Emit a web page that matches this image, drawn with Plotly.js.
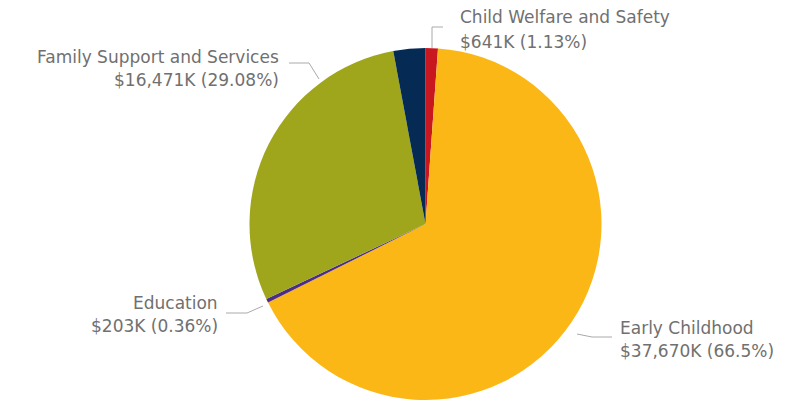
<!DOCTYPE html>
<html>
<head>
<meta charset="utf-8">
<script src="https://cdn.plot.ly/plotly-3.0.1.min.js"></script>
<style>html,body{margin:0;padding:0;background:#fff;}#chart{width:788px;height:404px;}</style>
</head>
<body>
<div id="chart"></div>
<script>
// Data (thousands of dollars)
const categories = ["Child Welfare and Safety", "Early Childhood", "Education", "Family Support and Services", "Other"];
const valuesK = [641, 37670, 203, 16471, 1662];
const showLabel = [true, true, true, true, false];
const colors = ["#C8171F", "#FBB716", "#4B2C8C", "#A0A61C", "#052B55"];

const W = 788, H = 404;
const px = x => x / W;
const py = y => 1 - y / H;

const total = valuesK.reduce((a, b) => a + b, 0);
function fmtVal(v) {
  return "$" + v.toLocaleString("en-US") + "K (" + parseFloat((v / total * 100).toFixed(2)) + "%)";
}

// Label layout (pixel positions): text anchor, alignment, connector path
const labelLayout = {
  "Child Welfare and Safety": {x: 458, y1: 17, y2: 42, align: "left", path: [[432, 48], [432, 27], [443, 27]]},
  "Early Childhood": {x: 618, y1: 328, y2: 351, align: "left", path: [[577, 334], [592, 337], [612, 337]]},
  "Education": {x: 220, y1: 303, y2: 326, align: "right", path: [[263, 306], [247, 313], [226, 313]]},
  "Family Support and Services": {x: 281, y1: 57, y2: 80, align: "right", path: [[319, 79], [309, 63], [289, 63]]}
};

const fontFam = "'DejaVu Sans', sans-serif";
const annotations = [];
const shapes = [];
categories.forEach((c, i) => {
  if (!showLabel[i]) return;
  const L = labelLayout[c];
  const common = {xref: "paper", yref: "paper", showarrow: false, xanchor: L.align, yanchor: "middle",
    font: {family: fontFam, size: 17, color: "#707070"}};
  annotations.push(Object.assign({}, common, {x: px(L.x), y: py(L.y1), text: c}));
  annotations.push(Object.assign({}, common, {x: px(L.x), y: py(L.y2), text: fmtVal(valuesK[i])}));
  const d = L.path.map((p, k) => (k ? "L" : "M") + px(p[0]) + "," + py(p[1])).join(" ");
  shapes.push({type: "path", xref: "paper", yref: "paper", path: d, line: {color: "#AAAAAA", width: 1}});
});

const trace = {
  type: "pie",
  labels: categories,
  values: valuesK,
  sort: false,
  direction: "clockwise",
  rotation: 0,
  textinfo: "none",
  hoverinfo: "label+value+percent",
  marker: {colors: colors, line: {width: 0}},
  domain: {x: [px(249.5), px(601.5)], y: [py(400), py(48)]}
};

const layout = {
  width: W, height: H,
  margin: {l: 0, r: 0, t: 0, b: 0},
  paper_bgcolor: "#ffffff",
  showlegend: false,
  annotations: annotations,
  shapes: shapes
};

Plotly.newPlot("chart", [trace], layout, {displayModeBar: false, staticPlot: true});
</script>
</body>
</html>
